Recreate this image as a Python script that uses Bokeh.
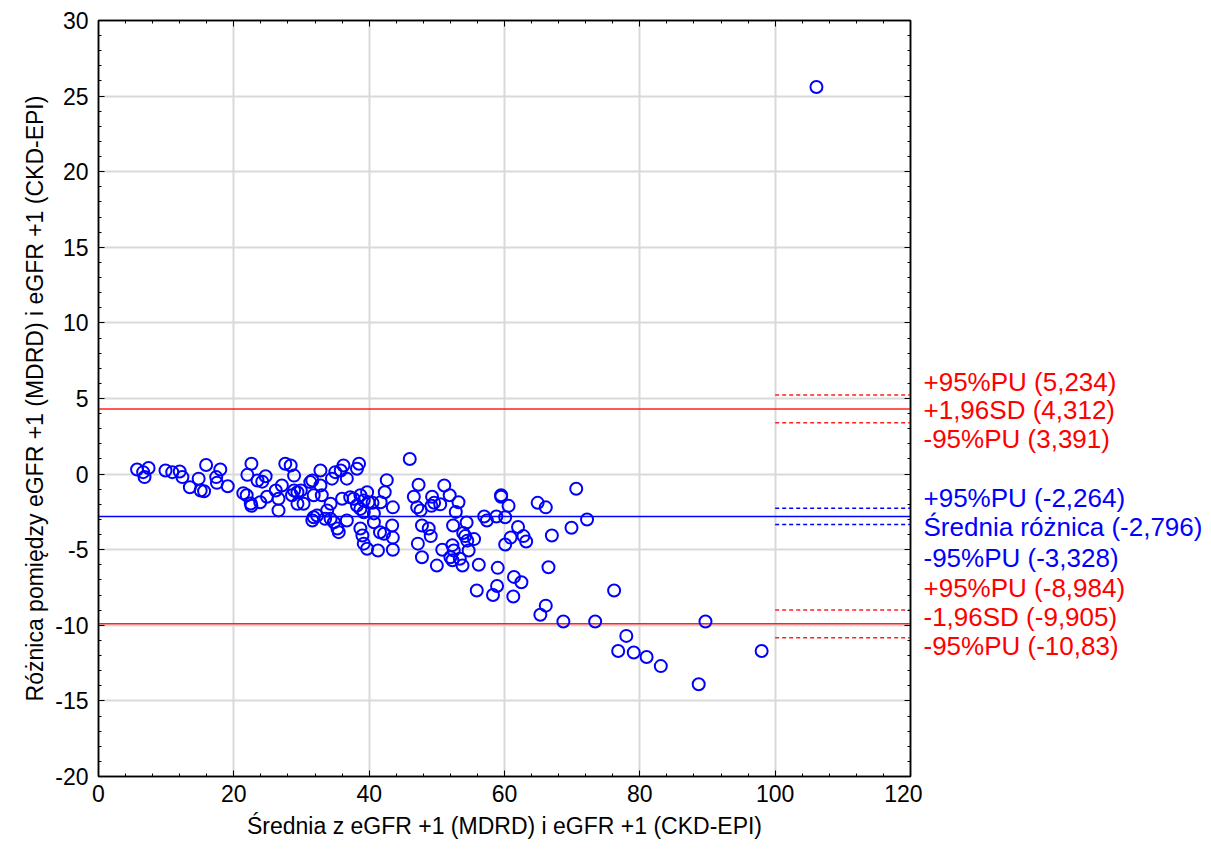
from bokeh.plotting import figure
from bokeh.models import LinearAxis, Range1d, FixedTicker
from bokeh.layouts import row
from bokeh.core.properties import value
from bokeh.embed import file_html
from bokeh.resources import INLINE

# ---- data ----
mean_x = [5.7, 6.8, 6.6, 7.4, 9.9, 10.9, 12.0, 12.4, 13.5, 14.8, 15.1, 15.6, 15.9, 18.0, 17.4, 17.5, 19.1,
          22.6, 22.0, 21.4, 21.9, 22.5, 22.6, 23.5, 24.2, 24.7, 23.9, 24.9,
          27.6, 28.4, 28.9, 32.8, 36.2, 35.0, 35.8, 38.5, 38.2, 31.3, 31.6, 34.5, 36.7, 27.1, 26.2, 28.9,
          29.4, 29.9, 32.8, 33.0, 26.6, 26.6, 28.6, 29.4, 30.3, 31.8, 34.3, 33.8, 31.8, 32.3, 31.6, 33.5,
          34.3, 34.8, 35.3, 35.5, 36.0, 37.2, 36.7, 38.2, 38.7, 39.2, 39.7, 38.7, 37.7, 39.2, 39.9, 38.7,
          39.0, 39.2, 39.7, 40.7,
          46.0, 42.6, 42.3, 41.7, 43.5, 40.7, 43.4, 42.2, 41.6, 43.5, 43.5, 41.3, 40.5, 47.3, 46.6, 47.1, 47.6,
          47.8, 48.8, 49.1, 47.2, 47.8, 51.1, 51.9, 49.3, 49.6, 49.2, 50.5, 53.2, 52.8, 52.4, 54.4, 53.9,
          54.2, 54.5, 55.5, 50.8, 52.3, 52.5, 52.0, 52.3, 54.7, 53.4, 53.8, 50.0, 56.2, 57.0, 57.4,
          70.6, 59.5, 59.5, 60.6, 64.9, 66.1, 58.8, 60.1, 62.0, 60.9, 60.1, 62.8, 63.2, 67.0, 69.9, 72.2,
          59.0, 61.4, 62.5, 58.9, 58.3, 61.3, 66.5, 55.9, 66.1, 65.3, 68.7,
          76.2, 73.4, 89.7, 78.0, 76.8, 79.1, 81.0, 83.1, 88.7, 98.0, 106.1]
diff_y = [0.3, -0.2, 0.13, 0.4, 0.24, 0.13, 0.17, -0.2, -0.87, -0.3, -1.08, -1.13, 0.6, 0.3, -0.2, -0.58, -0.8,
          0.68, -0.05, -1.26, -1.4, -1.94, -2.1, -0.42, -0.5, -0.14, -1.86, -1.5,
          0.68, 0.57, -0.1, 0.24, 0.57, 0.13, 0.24, 0.68, 0.35, -0.53, -0.42, -0.3, -0.3, -0.75, -1.08, -1.08,
          -1.2, -1.08, -0.75, -1.4, -1.63, -2.4, -1.4, -1.96, -1.96, -1.4, -1.96, -2.4, -2.85, -2.74, -3.07, -2.96,
          -2.96, -3.18, -3.6, -3.84, -1.63, -1.53, -3.07, -2.08, -2.3, -2.52, -1.2, -1.4, -1.63, -1.75, -1.86, -3.6,
          -4.06, -4.6, -4.94, -3.18,
          1.0, -0.4, -1.2, -1.86, -2.2, -2.6, -3.4, -3.95, -3.85, -4.2, -5.0, -5.05, -1.9, -0.7, -1.5, -2.2, -2.4,
          -3.4, -3.6, -4.1, -4.6, -5.5, -0.75, -1.4, -1.5, -1.9, -2.1, -2.0, -1.86, -2.5, -3.4, -3.2, -3.9,
          -4.1, -4.4, -4.3, -5.0, -4.7, -5.05, -5.5, -5.7, -5.05, -5.6, -6.05, -6.05, -6.0, -2.8, -3.07,
          -0.97, -1.4, -1.5, -2.1, -1.9, -2.2, -2.8, -2.85, -3.5, -4.2, -4.66, -4.1, -4.46, -4.06, -3.55, -3.0,
          -6.2, -6.8, -7.15, -7.4, -8.0, -8.1, -6.16, -7.7, -8.7, -9.3, -9.75,
          -7.7, -9.75, -9.75, -10.7, -11.7, -11.8, -12.1, -12.7, -13.9, -11.7, 25.6]

mean_diff = -2.796
mean_ci = [-2.264, -3.328]
upper_loa = 4.312
upper_ci = [5.234, 3.391]
lower_loa = -9.905
lower_ci = [-8.984, -10.83]

label_texts = ["+95%PU (5,234)", "+1,96SD (4,312)", "-95%PU (3,391)",
               "+95%PU (-2,264)", "Średnia różnica (-2,796)", "-95%PU (-3,328)",
               "+95%PU (-8,984)", "-1,96SD (-9,905)", "-95%PU (-10,83)"]
label_colors = ["#ff0000"] * 3 + ["#0000ff"] * 3 + ["#ff0000"] * 3

x_ticks = [0, 20, 40, 60, 80, 100, 120]
y_ticks = [-20, -15, -10, -5, 0, 5, 10, 15, 20, 25, 30]
x_minor = list(range(0, 121, 4))
y_minor = list(range(-20, 31, 1))

FONT = "Liberation Sans"
YR = Range1d(-20, 30)

p = figure(frame_width=812, frame_height=756, output_backend="svg", toolbar_location=None,
           x_range=Range1d(0, 120), y_range=YR,
           min_border_left=98, min_border_right=12, min_border_top=20, min_border_bottom=85)
p.outline_line_color = "black"
p.outline_line_width = 1.5

for ax in (p.xaxis[0], p.yaxis[0]):
    ax.major_label_text_font = FONT
    ax.major_label_text_font_size = "23px"
    ax.major_label_text_color = "black"
    ax.axis_label_text_font = FONT
    ax.axis_label_text_font_size = "23px"
    ax.axis_label_text_font_style = "normal"
    ax.axis_label_text_color = "black"
    ax.major_tick_in = 6
    ax.major_tick_out = 0
    ax.minor_tick_in = 3
    ax.minor_tick_out = 0
    ax.axis_line_color = "black"
    ax.axis_line_width = 1.5

p.xaxis.ticker = FixedTicker(ticks=x_ticks, minor_ticks=x_minor)
p.yaxis.ticker = FixedTicker(ticks=y_ticks, minor_ticks=y_minor)
p.yaxis.major_label_overrides = {t: str(t) for t in y_ticks}
p.xaxis.axis_label = "Średnia z eGFR +1 (MDRD) i eGFR +1 (CKD-EPI)"
p.yaxis.axis_label = "Różnica pomiędzy eGFR +1 (MDRD) i eGFR +1 (CKD-EPI)"
p.xaxis.major_label_standoff = 8
p.yaxis.major_label_standoff = 10
p.xaxis.axis_label_standoff = 8
p.yaxis.axis_label_standoff = 4

# top and right frame ticks (no labels)
top = LinearAxis(ticker=FixedTicker(ticks=x_ticks, minor_ticks=x_minor),
                 major_label_overrides={t: "" for t in x_ticks}, major_label_standoff=0,
                 major_tick_in=6, major_tick_out=0,
                 minor_tick_in=3, minor_tick_out=0, axis_line_width=1.5)
right = LinearAxis(ticker=FixedTicker(ticks=y_ticks, minor_ticks=y_minor),
                   major_label_overrides={t: "" for t in y_ticks}, major_label_standoff=0,
                   major_tick_in=6, major_tick_out=0,
                   minor_tick_in=3, minor_tick_out=0, axis_line_width=1.5)
p.add_layout(top, "above")
p.add_layout(right, "right")

p.xgrid.ticker = FixedTicker(ticks=x_ticks)
p.ygrid.ticker = FixedTicker(ticks=y_ticks)
p.grid.grid_line_color = "#d9d9d9"
p.grid.grid_line_width = 2

# limit lines
p.line([0, 120], [mean_diff, mean_diff], line_color="#0000ff", line_width=1.5)
p.line([0, 120], [upper_loa, upper_loa], line_color="#ff2020", line_width=1.5)
p.line([0, 120], [lower_loa, lower_loa], line_color="#ff2020", line_width=1.5)
for vals, col in ((upper_ci, "#ff2020"), (lower_ci, "#ff2020"), (mean_ci, "#0000ff")):
    for v in vals:
        p.line([100, 120], [v, v], line_color=col, line_width=1.5, line_dash="4 3")

p.scatter(mean_x, diff_y, marker="circle", size=12, fill_color=None,
          line_color="#0000ff", line_width=2)

# right panel with stacked labels (shares the y scale)
label_y = [6.12, 4.21, 2.29, -1.55, -3.53, -5.52, -7.5, -9.42, -11.4]
q = figure(frame_width=285, frame_height=756, output_backend="svg", toolbar_location=None,
           x_range=Range1d(0, 285), y_range=YR,
           min_border_left=0, min_border_right=0, min_border_top=20, min_border_bottom=85)
q.axis.visible = False
q.grid.visible = False
q.outline_line_color = None
q.text(x=[1] * len(label_texts), y=label_y, text=label_texts, text_color=label_colors,
       text_font=value(FONT), text_font_size="26px", text_baseline="middle", text_align="left")

layout = row(p, q, spacing=0)
open("out.html", "w").write(file_html(layout, INLINE))
